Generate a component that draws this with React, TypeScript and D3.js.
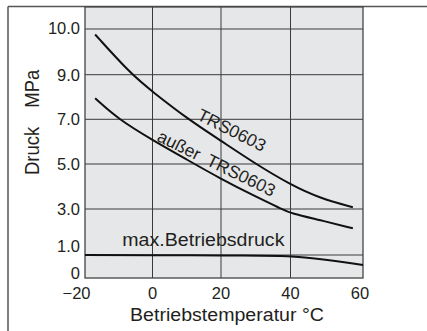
import React from "react";
import * as d3 from "d3";

// ---- data ----
const xTicks = [-20, 0, 20, 40, 60];
const yTicks = [0, 1, 3, 5, 7, 9, 10];
const yTickLabels = ["0", "1.0", "3.0", "5.0", "7.0", "9.0", "10.0"];
const yGrid = [1, 3, 5, 7, 9, 10];
const xGrid = [0, 20, 40];

const trsTemp = [-17, -6.2, 0, 10.4, 19.7, 30, 40.1, 48.1, 57.2];
const trsPress = [9.88, 9.0, 8.24, 7.0, 6.07, 5.0, 4.07, 3.48, 3.08];

const otherTemp = [-17, -10.1, 0, 10, 19.7, 30, 37.5, 40.1, 48.1, 57.2];
const otherPress = [7.94, 7.0, 6.07, 5.2, 4.36, 3.55, 3.0, 2.81, 2.52, 2.16];

const maxTemp = [-20, 0, 20, 37, 60];
const maxPress = [1.0, 0.99, 0.98, 0.96, 0.57];

const labelTRS = "TRS0603";
const labelOther1 = "außer";
const labelOther2 = "TRS0603";
const labelMax = "max.Betriebsdruck";
const xTitle = "Betriebstemperatur °C";
const yTitle1 = "Druck";
const yTitle2 = "MPa";

// ---- layout ----
const W = 427;
const H = 331;
const FONT = "'Liberation Sans', Arial, Helvetica, sans-serif";
const TEXT = "#231f20";
const GRID = "#3a3a3a";

const x = d3
  .scaleLinear()
  .domain([-20, 0, 20, 40, 60])
  .range([85, 152.5, 221, 290.5, 363]);
const y = d3
  .scaleLinear()
  .domain([0, 1, 3, 5, 7, 9, 10])
  .range([278, 255, 209, 164, 119.3, 74.7, 29]);

const plotTop = 7;

function mkLine(ts: number[], ps: number[], curve: d3.CurveFactory) {
  const pts = ts.map((t, i) => [t, ps[i]] as [number, number]);
  return d3
    .line<[number, number]>()
    .x((d) => x(d[0]))
    .y((d) => y(d[1]))
    .curve(curve)(pts) as string;
}

const yLabelShift: Record<number, number> = { 0: -5, 1: -9, 10: -1.5 };

export default function App() {
  const [x0, x1] = [x(-20), x(60)];
  const yb = y(0);
  return (
    <svg
      width={W}
      height={H}
      style={{ position: "absolute", left: 0, top: 0, background: "#fff" }}
      fontFamily={FONT}
    >
      {/* outer frame */}
      <line x1={8} y1={6.5} x2={W} y2={6.5} stroke="#555" strokeWidth={1.5} />
      <line x1={8} y1={6.5} x2={8} y2={H} stroke="#555" strokeWidth={1.5} />

      {/* plot area */}
      <rect x={x0} y={plotTop} width={x1 - x0} height={yb - plotTop} fill="#e6e7e9" />
      {yGrid.map((v) => (
        <line key={"hy" + v} x1={x0} x2={x1} y1={y(v)} y2={y(v)} stroke={GRID} strokeWidth={1} />
      ))}
      {xGrid.map((v) => (
        <line key={"vx" + v} x1={x(v)} x2={x(v)} y1={plotTop} y2={yb} stroke={GRID} strokeWidth={1} />
      ))}
      <rect
        x={x0}
        y={plotTop}
        width={x1 - x0}
        height={yb - plotTop}
        fill="none"
        stroke="#444"
        strokeWidth={1.3}
      />

      {/* curves */}
      <path d={mkLine(trsTemp, trsPress, d3.curveBasis)} fill="none" stroke="#111" strokeWidth={2} />
      <path d={mkLine(otherTemp, otherPress, d3.curveBasis)} fill="none" stroke="#111" strokeWidth={2} />
      <path d={mkLine(maxTemp, maxPress, d3.curveMonotoneX)} fill="none" stroke="#111" strokeWidth={2} />

      {/* curve labels */}
      <text transform={`translate(196,119) rotate(26.5)`} fontSize={17.5} fill={TEXT}>
        {labelTRS}
      </text>
      <text transform={`translate(156,140.5) rotate(26)`} fontSize={17.5} fill={TEXT}>
        {labelOther1}
        <tspan dx={9}>{labelOther2}</tspan>
      </text>
      <text transform={`translate(122.3,246) scale(1.12,1)`} fontSize={17.5} fill={TEXT}>
        {labelMax}
      </text>

      {/* y tick labels */}
      {yTicks.map((v, i) => (
        <text
          key={"yl" + v}
          x={80}
          y={y(v) + (yLabelShift[v] || 0) + 6}
          textAnchor="end"
          fontSize={16.5}
          fill={TEXT}
        >
          {yTickLabels[i]}
        </text>
      ))}

      {/* x tick labels */}
      {xTicks.map((v) => (
        <text
          key={"xl" + v}
          x={v < 0 ? x(v) + 5.5 : x(v) - (v === 60 ? 3 : 0)}
          y={298.5}
          textAnchor={v < 0 ? "end" : "middle"}
          fontSize={16.5}
          fill={TEXT}
        >
          {v < 0 ? "\u2212" + Math.abs(v) : String(v)}
        </text>
      ))}

      {/* axis titles */}
      <text transform={`translate(130,321) scale(1.12,1)`} fontSize={17.5} fill={TEXT}>
        {xTitle}
      </text>
      <text
        transform={`translate(38.5,175) scale(1.12,1) rotate(-90)`}
        fontSize={18.5}
        fill={TEXT}
      >
        {yTitle1}
        <tspan dx={19}>{yTitle2}</tspan>
      </text>
    </svg>
  );
}
